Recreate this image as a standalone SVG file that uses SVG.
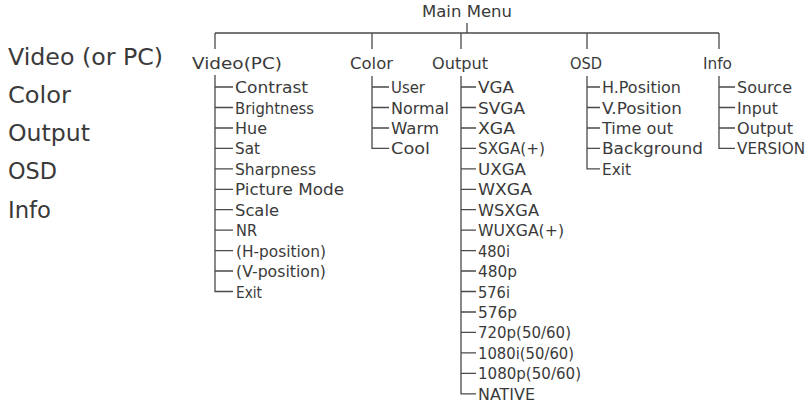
<svg xmlns="http://www.w3.org/2000/svg" width="811" height="404" viewBox="0 0 811 404">
<style>
text{font-family:"DejaVu Sans","Liberation Sans",sans-serif;fill:#3a3a3a;lengthAdjust:spacingAndGlyphs}
.big{font-size:23px}
.t{font-size:16.5px}
.ln{stroke:#4a4a4a;stroke-width:1.3;fill:none}
</style>
<rect width="811" height="404" fill="#ffffff"/>
<g id="legend">
<text class="big" x="8" y="64.5" textLength="155" lengthAdjust="spacingAndGlyphs">Video (or PC)</text>
<text class="big" x="8" y="102.8" textLength="63" lengthAdjust="spacingAndGlyphs">Color</text>
<text class="big" x="8" y="141.1" textLength="82" lengthAdjust="spacingAndGlyphs">Output</text>
<text class="big" x="8" y="179.4" textLength="49" lengthAdjust="spacingAndGlyphs">OSD</text>
<text class="big" x="8" y="217.7" textLength="43" lengthAdjust="spacingAndGlyphs">Info</text>
</g>
<g id="connectors" class="ln">
<path d="M467 23V33M215 33H719M215 33V49M372 33V49M461 33V49M587 33V49M719 33V49"/>
<path d="M215 75V291.5H233M215 87H233M215 107.5H233M215 128H233M215 148.4H233M215 168.8H233M215 189.3H233M215 209.7H233M215 230.2H233M215 250.6H233M215 271H233"/>
<path d="M372 76V148.4H389M372 87H389M372 107.5H389M372 128H389"/>
<path d="M461 76V393.8H476M461 87H476M461 107.5H476M461 128H476M461 148.4H476M461 168.8H476M461 189.3H476M461 209.7H476M461 230.2H476M461 250.6H476M461 271H476M461 291.5H476M461 312H476M461 332.4H476M461 352.9H476M461 373.3H476"/>
<path d="M587 76V168.8H600M587 87H600M587 107.5H600M587 128H600M587 148.4H600"/>
<path d="M719 76V148.4H735M719 87H735M719 107.5H735M719 128H735"/>
</g>
<g id="main-menu"><text class="t" x="422" y="17" textLength="90" lengthAdjust="spacingAndGlyphs">Main Menu</text></g>
<g id="video">
<text class="t" x="192" y="69" textLength="90" lengthAdjust="spacingAndGlyphs">Video(PC)</text>
<text class="t" x="235" y="93" textLength="73" lengthAdjust="spacingAndGlyphs">Contrast</text>
<text class="t" x="235" y="113.5" textLength="79" lengthAdjust="spacingAndGlyphs">Brightness</text>
<text class="t" x="235" y="134" textLength="32" lengthAdjust="spacingAndGlyphs">Hue</text>
<text class="t" x="235" y="154.4" textLength="25" lengthAdjust="spacingAndGlyphs">Sat</text>
<text class="t" x="235" y="174.8" textLength="81" lengthAdjust="spacingAndGlyphs">Sharpness</text>
<text class="t" x="235" y="195.3" textLength="109" lengthAdjust="spacingAndGlyphs">Picture Mode</text>
<text class="t" x="235" y="215.7" textLength="44" lengthAdjust="spacingAndGlyphs">Scale</text>
<text class="t" x="236" y="236.2" textLength="21" lengthAdjust="spacingAndGlyphs">NR</text>
<text class="t" x="236" y="256.6" textLength="90" lengthAdjust="spacingAndGlyphs">(H-position)</text>
<text class="t" x="236" y="277" textLength="90" lengthAdjust="spacingAndGlyphs">(V-position)</text>
<text class="t" x="236" y="297.5" textLength="26" lengthAdjust="spacingAndGlyphs">Exit</text>
</g>
<g id="color">
<text class="t" x="350" y="69" textLength="43" lengthAdjust="spacingAndGlyphs">Color</text>
<text class="t" x="391" y="93" textLength="34" lengthAdjust="spacingAndGlyphs">User</text>
<text class="t" x="391" y="113.5" textLength="58" lengthAdjust="spacingAndGlyphs">Normal</text>
<text class="t" x="391" y="134" textLength="48" lengthAdjust="spacingAndGlyphs">Warm</text>
<text class="t" x="391" y="154.4" textLength="39" lengthAdjust="spacingAndGlyphs">Cool</text>
</g>
<g id="output">
<text class="t" x="432" y="69" textLength="56" lengthAdjust="spacingAndGlyphs">Output</text>
<text class="t" x="478" y="93" textLength="36" lengthAdjust="spacingAndGlyphs">VGA</text>
<text class="t" x="478" y="113.5" textLength="47" lengthAdjust="spacingAndGlyphs">SVGA</text>
<text class="t" x="478" y="134" textLength="37" lengthAdjust="spacingAndGlyphs">XGA</text>
<text class="t" x="478" y="154.4" textLength="67" lengthAdjust="spacingAndGlyphs">SXGA(+)</text>
<text class="t" x="478" y="174.8" textLength="48" lengthAdjust="spacingAndGlyphs">UXGA</text>
<text class="t" x="478" y="195.3" textLength="54" lengthAdjust="spacingAndGlyphs">WXGA</text>
<text class="t" x="478" y="215.7" textLength="61" lengthAdjust="spacingAndGlyphs">WSXGA</text>
<text class="t" x="478" y="236.2" textLength="86" lengthAdjust="spacingAndGlyphs">WUXGA(+)</text>
<text class="t" x="478" y="256.6" textLength="32" lengthAdjust="spacingAndGlyphs">480i</text>
<text class="t" x="478" y="277" textLength="39" lengthAdjust="spacingAndGlyphs">480p</text>
<text class="t" x="478" y="297.5" textLength="32" lengthAdjust="spacingAndGlyphs">576i</text>
<text class="t" x="478" y="318" textLength="39" lengthAdjust="spacingAndGlyphs">576p</text>
<text class="t" x="478" y="338.4" textLength="93" lengthAdjust="spacingAndGlyphs">720p(50/60)</text>
<text class="t" x="478" y="358.9" textLength="96" lengthAdjust="spacingAndGlyphs">1080i(50/60)</text>
<text class="t" x="478" y="379.3" textLength="103" lengthAdjust="spacingAndGlyphs">1080p(50/60)</text>
<text class="t" x="478" y="399.8" textLength="57" lengthAdjust="spacingAndGlyphs">NATIVE</text>
</g>
<g id="osd">
<text class="t" x="570" y="69" textLength="32" lengthAdjust="spacingAndGlyphs">OSD</text>
<text class="t" x="602" y="93" textLength="79" lengthAdjust="spacingAndGlyphs">H.Position</text>
<text class="t" x="602" y="113.5" textLength="80" lengthAdjust="spacingAndGlyphs">V.Position</text>
<text class="t" x="602" y="134" textLength="71" lengthAdjust="spacingAndGlyphs">Time out</text>
<text class="t" x="602" y="154.4" textLength="101" lengthAdjust="spacingAndGlyphs">Background</text>
<text class="t" x="602" y="174.8" textLength="29" lengthAdjust="spacingAndGlyphs">Exit</text>
</g>
<g id="info">
<text class="t" x="703" y="69" textLength="29" lengthAdjust="spacingAndGlyphs">Info</text>
<text class="t" x="737" y="93" textLength="55" lengthAdjust="spacingAndGlyphs">Source</text>
<text class="t" x="737" y="113.5" textLength="41" lengthAdjust="spacingAndGlyphs">Input</text>
<text class="t" x="737" y="134" textLength="56" lengthAdjust="spacingAndGlyphs">Output</text>
<text class="t" x="737" y="154.4" textLength="68" lengthAdjust="spacingAndGlyphs">VERSION</text>
</g>
</svg>
